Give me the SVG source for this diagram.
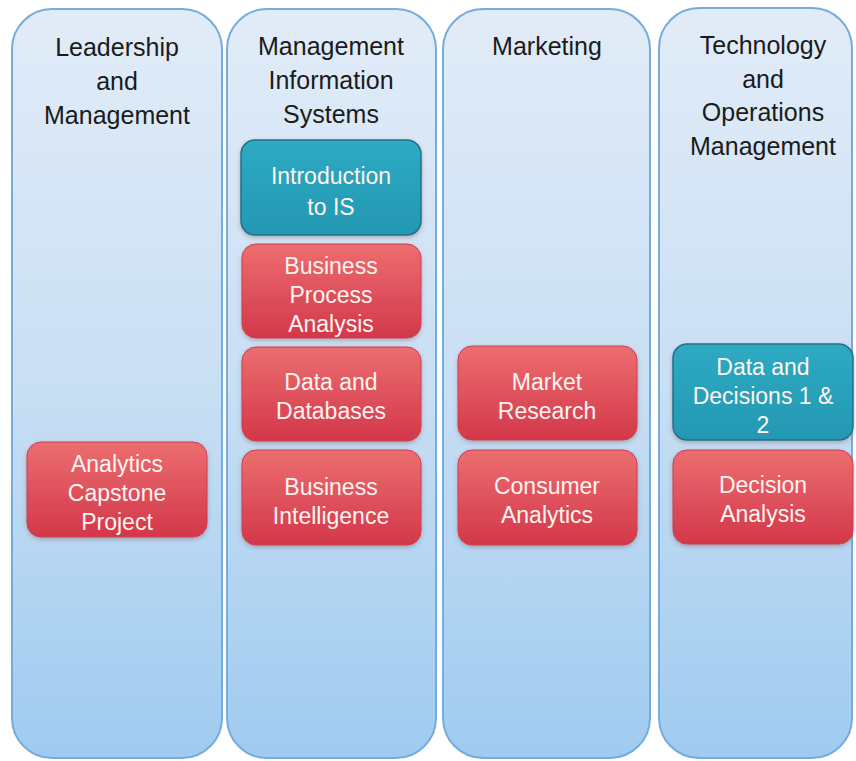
<svg xmlns="http://www.w3.org/2000/svg" width="856" height="761" viewBox="0 0 856 761">
  <defs>
    <linearGradient id="laneFill" x1="0" y1="0" x2="0" y2="1">
      <stop offset="0" stop-color="#e2ecf8"/>
      <stop offset="0.5" stop-color="#c9dff4"/>
      <stop offset="1" stop-color="#9fcbf0"/>
    </linearGradient>
    <linearGradient id="redFill" x1="0" y1="0" x2="0" y2="1">
      <stop offset="0" stop-color="#ec6e70"/>
      <stop offset="1" stop-color="#d3374a"/>
    </linearGradient>
    <linearGradient id="tealFill" x1="0" y1="0" x2="0" y2="1">
      <stop offset="0" stop-color="#2eaac3"/>
      <stop offset="1" stop-color="#2498b3"/>
    </linearGradient>
    <filter id="soft" x="-10%" y="-10%" width="120%" height="130%">
      <feDropShadow dx="0" dy="2" stdDeviation="2" flood-color="#7a3a40" flood-opacity="0.35"/>
    </filter>
  </defs>
  <style>
    .lane { fill: url(#laneFill); stroke: #76acdc; stroke-width: 2; }
    .red { fill: url(#redFill); stroke: #c9414d; stroke-width: 1; filter: url(#soft); }
    .teal { fill: url(#tealFill); stroke: #1d7388; stroke-width: 1.5; filter: url(#soft); }
    .head { font-family: "Liberation Sans", Arial, sans-serif; font-size: 25px; fill: #1b1b1b; text-anchor: middle; }
    .label { font-family: "Liberation Sans", Arial, sans-serif; font-size: 23px; fill: #fff4f0; text-anchor: middle; }
  </style>
  <rect width="856" height="761" fill="#ffffff"/>

  <!-- Department lanes -->
  <g id="lane-leadership">
    <rect class="lane" x="12" y="9" width="210" height="749" rx="40"/>
    <text class="head" x="117" y="56">Leadership</text>
    <text class="head" x="117" y="90">and</text>
    <text class="head" x="117" y="124">Management</text>
  </g>
  <g id="lane-mis">
    <rect class="lane" x="227" y="9" width="209" height="749" rx="40"/>
    <text class="head" x="331" y="55">Management</text>
    <text class="head" x="331" y="89">Information</text>
    <text class="head" x="331" y="123">Systems</text>
  </g>
  <g id="lane-marketing">
    <rect class="lane" x="443" y="9" width="207" height="749" rx="40"/>
    <text class="head" x="547" y="55">Marketing</text>
  </g>
  <g id="lane-tom">
    <rect class="lane" x="659" y="8" width="193" height="750" rx="40"/>
    <text class="head" x="763" y="54">Technology</text>
    <text class="head" x="763" y="88">and</text>
    <text class="head" x="763" y="121">Operations</text>
    <text class="head" x="763" y="155">Management</text>
  </g>

  <!-- Courses -->
  <g id="analytics-capstone">
    <rect class="red" x="27" y="442" width="180" height="95" rx="14"/>
    <text class="label" x="117" y="472">Analytics</text>
    <text class="label" x="117" y="501">Capstone</text>
    <text class="label" x="117" y="530">Project</text>
  </g>
  <g id="intro-is">
    <rect class="teal" x="241" y="140" width="180" height="95" rx="14"/>
    <text class="label" x="331" y="184">Introduction</text>
    <text class="label" x="331" y="215">to IS</text>
  </g>
  <g id="business-process">
    <rect class="red" x="242" y="244" width="179" height="94" rx="14"/>
    <text class="label" x="331" y="274">Business</text>
    <text class="label" x="331" y="303">Process</text>
    <text class="label" x="331" y="332">Analysis</text>
  </g>
  <g id="data-databases">
    <rect class="red" x="242" y="347" width="179" height="94" rx="14"/>
    <text class="label" x="331" y="390">Data and</text>
    <text class="label" x="331" y="419">Databases</text>
  </g>
  <g id="business-intelligence">
    <rect class="red" x="242" y="450" width="179" height="95" rx="14"/>
    <text class="label" x="331" y="495">Business</text>
    <text class="label" x="331" y="524">Intelligence</text>
  </g>
  <g id="market-research">
    <rect class="red" x="458" y="346" width="179" height="94" rx="14"/>
    <text class="label" x="547" y="390">Market</text>
    <text class="label" x="547" y="419">Research</text>
  </g>
  <g id="consumer-analytics">
    <rect class="red" x="458" y="450" width="179" height="95" rx="14"/>
    <text class="label" x="547" y="494">Consumer</text>
    <text class="label" x="547" y="523">Analytics</text>
  </g>
  <g id="data-decisions">
    <rect class="teal" x="673" y="344" width="180" height="96" rx="14"/>
    <text class="label" x="763" y="375">Data and</text>
    <text class="label" x="763" y="404">Decisions 1 &amp;</text>
    <text class="label" x="763" y="433">2</text>
  </g>
  <g id="decision-analysis">
    <rect class="red" x="673" y="450" width="180" height="94" rx="14"/>
    <text class="label" x="763" y="493">Decision</text>
    <text class="label" x="763" y="522">Analysis</text>
  </g>
</svg>
